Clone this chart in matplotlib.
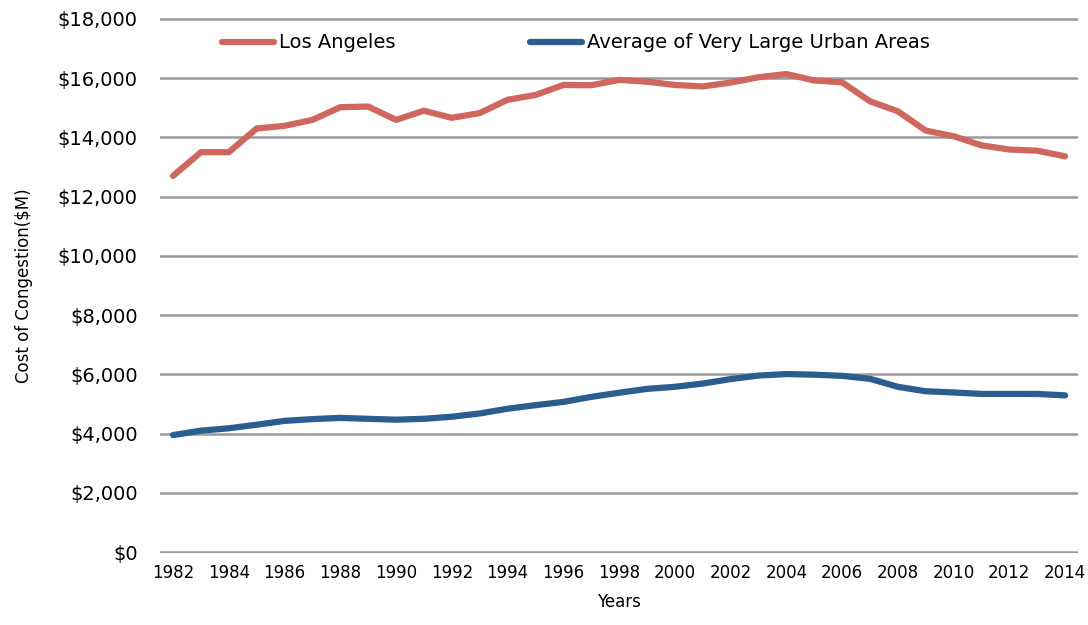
import numpy as np
import matplotlib.pyplot as plt
from matplotlib.ticker import FuncFormatter

years = list(range(1982, 2015))
los_angeles = [12700, 13500, 13500, 14300, 14390, 14590, 15020, 15040, 14590, 14900,
               14660, 14820, 15270, 15430, 15770, 15760, 15940, 15880, 15770, 15720,
               15850, 16030, 16140, 15920, 15860, 15220, 14880, 14230, 14040, 13730,
               13590, 13550, 13360]
very_large_avg = [3950, 4100, 4180, 4300, 4430, 4490, 4530, 4500, 4470, 4500,
                  4570, 4680, 4840, 4960, 5070, 5240, 5380, 5510, 5580, 5690,
                  5840, 5960, 6010, 5990, 5950, 5850, 5580, 5430, 5390, 5340,
                  5340, 5340, 5290]

red = '#D0675F'
blue = '#2B5E8E'

fig = plt.figure(figsize=(10.88, 6.25), dpi=100)
ax = fig.add_axes([0.147, 0.1152, 0.844, 0.856])

ax.plot(years, los_angeles, color=red, lw=4.5, label='Los Angeles', solid_capstyle='round')
ax.plot(years, very_large_avg, color=blue, lw=4.5, label='Average of Very Large Urban Areas',
        solid_capstyle='round')

ax.set_xlim(1981.53, 2014.47)
ax.set_ylim(-30, 18030)
ax.set_yticks(np.arange(0, 18001, 2000))
ax.set_xticks(years[::2])
ax.yaxis.set_major_formatter(FuncFormatter(lambda v, p: '${:,.0f}'.format(v)))
ax.grid(axis='y', color='#9a9a9a', lw=1.8)
ax.set_axisbelow(True)
for s in ax.spines.values():
    s.set_visible(False)
ax.tick_params(length=0)
ax.tick_params(axis='y', labelsize=14, pad=16)
ax.tick_params(axis='x', labelsize=12, pad=8)

ax.set_xlabel('Years', fontsize=12, labelpad=8)
ax.set_ylabel('Cost of Congestion($M)', fontsize=12, labelpad=18)

ax.legend(loc='upper left', bbox_to_anchor=(0.048, 1.004), ncol=2, frameon=False,
          fontsize=14, handlelength=2.7, columnspacing=6.9, handletextpad=0.25)

fig.savefig('out.png', dpi=100)
